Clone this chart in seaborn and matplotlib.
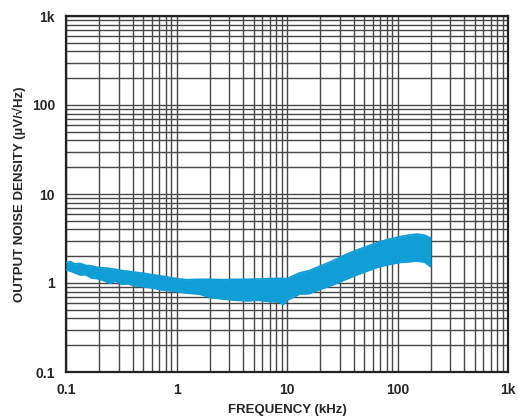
import numpy as np
import pandas as pd
import matplotlib
matplotlib.use("Agg")
import matplotlib.pyplot as plt
import seaborn as sns
from matplotlib.ticker import FixedLocator, LogLocator, NullFormatter

# frequency points (kHz) and band envelope (uV/rtHz)
freq_khz = [0.10, 0.11, 0.12, 0.134, 0.15, 0.17, 0.19, 0.22, 0.25, 0.28,
            0.32, 0.36, 0.42, 0.50, 0.60, 0.72, 0.85, 1.0, 1.24, 1.6,
            2.1, 2.7, 3.4, 4.3, 5.5, 7.0, 8.6, 9.2, 10, 13,
            16, 20, 26, 33, 42, 53, 66, 83, 105, 125,
            150, 175, 200]
noise_upper = [1.70, 1.74, 1.64, 1.66, 1.58, 1.56, 1.50, 1.48, 1.46, 1.42,
               1.38, 1.36, 1.32, 1.29, 1.24, 1.20, 1.16, 1.12, 1.09, 1.10,
               1.10, 1.09, 1.10, 1.10, 1.11, 1.12, 1.13, 1.12, 1.12, 1.30,
               1.38, 1.55, 1.78, 2.05, 2.33, 2.58, 2.85, 3.10, 3.31, 3.45,
               3.55, 3.45, 3.20]
noise_lower = [1.40, 1.36, 1.30, 1.23, 1.24, 1.14, 1.12, 1.06, 0.99, 1.05,
               0.97, 0.98, 0.93, 0.91, 0.88, 0.84, 0.82, 0.80, 0.77, 0.75,
               0.68, 0.66, 0.64, 0.63, 0.64, 0.62, 0.61, 0.57, 0.64, 0.75,
               0.76, 0.85, 0.95, 1.08, 1.22, 1.36, 1.50, 1.61, 1.70, 1.73,
               1.76, 1.72, 1.52]

x_ticks = [0.1, 1, 10, 100, 1000]
x_labels = ["0.1", "1", "10", "100", "1k"]
y_ticks = [0.1, 1, 10, 100, 1000]
y_labels = ["0.1", "1", "10", "100", "1k"]

trace_color = "#119dd5"
grid_color = "#474747"

df = pd.DataFrame({"freq": freq_khz, "upper": noise_upper, "lower": noise_lower})

sns.set_style("white")
plt.rcParams["font.family"] = ["Liberation Sans", "DejaVu Sans"]
plt.rcParams["font.weight"] = "bold"

fig = plt.figure(figsize=(5.18, 4.18), dpi=100)
ax = fig.add_axes([66 / 518, 46 / 418, 442 / 518, 356 / 418])
ax.set_xscale("log")
ax.set_yscale("log")
ax.set_xlim(0.1, 1000)
ax.set_ylim(0.1, 1000)

# noise band
ax.fill_between(df["freq"], df["lower"], df["upper"], color=trace_color, lw=0, zorder=3)
sns.lineplot(data=df, x="freq", y="upper", ax=ax, color=trace_color, lw=1.2, zorder=3)
sns.lineplot(data=df, x="freq", y="lower", ax=ax, color=trace_color, lw=1.2, zorder=3)

ax.xaxis.set_major_locator(FixedLocator(x_ticks))
ax.yaxis.set_major_locator(FixedLocator(y_ticks))
ax.xaxis.set_minor_locator(LogLocator(base=10, subs=np.arange(2, 10)))
ax.yaxis.set_minor_locator(LogLocator(base=10, subs=np.arange(2, 10)))
ax.xaxis.set_minor_formatter(NullFormatter())
ax.yaxis.set_minor_formatter(NullFormatter())
ax.set_xticklabels(x_labels)
ax.set_yticklabels(y_labels)

ax.grid(True, which="both", color=grid_color, lw=1.0, zorder=1)
ax.set_axisbelow(True)
ax.tick_params(which="both", length=0, labelsize=10, pad=8)
for s in ax.spines.values():
    s.set_color("#222222")
    s.set_linewidth(1.6)

ax.set_xlabel("FREQUENCY (kHz)", fontsize=9.5, fontweight="bold", labelpad=5)
ax.set_ylabel("OUTPUT NOISE DENSITY (µV/√Hz)", fontsize=9.5, fontweight="bold", labelpad=4)

fig.savefig("out.png", dpi=100)
